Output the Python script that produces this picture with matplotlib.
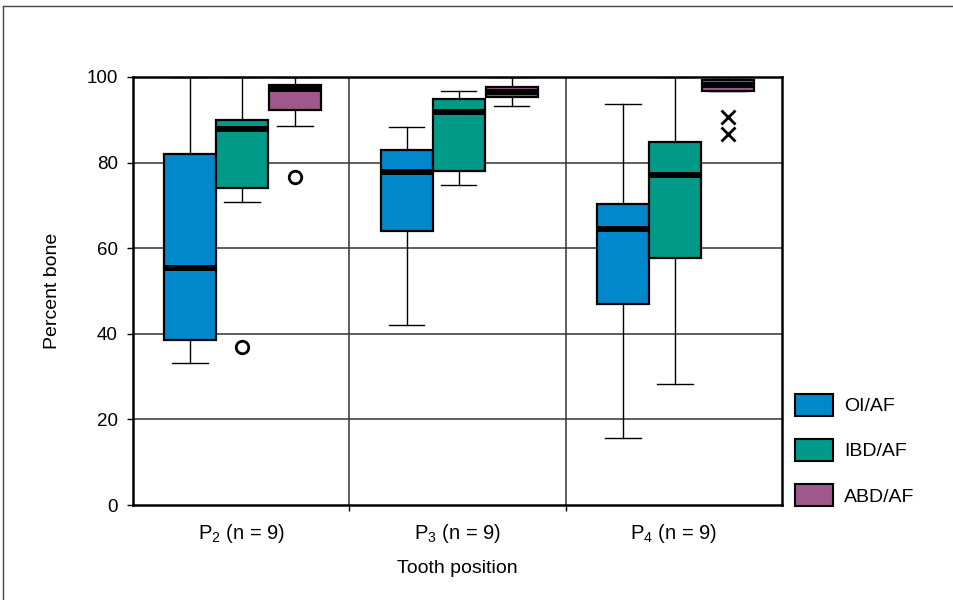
import matplotlib.pyplot as plt
from matplotlib.patches import Patch
from matplotlib.lines import Line2D

plt.rcParams['font.family'] = ['Liberation Sans', 'DejaVu Sans']
plt.rcParams['mathtext.fontset'] = 'custom'
plt.rcParams['mathtext.rm'] = 'Liberation Sans'

# data (percent bone)
groups = ['$\\mathrm{P}_2$ (n = 9)', '$\\mathrm{P}_3$ (n = 9)', '$\\mathrm{P}_4$ (n = 9)']
series = ['OI/AF', 'IBD/AF', 'ABD/AF']
colors = ['#0088cc', '#009a88', '#a0588c']

# [group] -> (whislo, q1, median, q3, whishi)
oi_stats = [(33.2, 38.6, 55.4, 82.0, 100.0),
            (42.1, 64.0, 77.8, 82.9, 88.2),
            (15.7, 47.0, 64.5, 70.3, 93.6)]
ibd_stats = [(70.8, 74.1, 87.9, 90.0, 100.0),
             (74.8, 78.0, 91.8, 94.9, 96.7),
             (28.3, 57.7, 77.0, 84.7, 100.0)]
abd_stats = [(88.6, 92.3, 97.2, 98.1, 100.0),
             (93.2, 95.4, 96.6, 97.6, 100.0),
             (96.8, 96.8, 98.1, 99.2, 100.0)]
oi_fliers = [[], [], []]
ibd_fliers = [[37.0], [], []]
abd_fliers = [[76.6], [], [90.7, 86.7]]
flier_markers = ['o', 'o', 'x']

all_stats = [oi_stats, ibd_stats, abd_stats]
all_fliers = [oi_fliers, ibd_fliers, abd_fliers]
offsets = [-0.235, 0.005, 0.25]
width = 0.24

fig = plt.figure(figsize=(9.54, 6.0), dpi=100)
ax = fig.add_axes([0.1394, 0.1583, 0.6803, 0.7134])

for s in range(3):
    for g in range(3):
        lo, q1, med, q3, hi = all_stats[s][g]
        st = dict(whislo=lo, q1=q1, med=med, q3=q3, whishi=hi, fliers=all_fliers[s][g])
        mk = flier_markers[g]
        ax.bxp([st], positions=[g + offsets[s]], widths=width, capwidths=[0.165],
               patch_artist=True, showfliers=True,
               boxprops=dict(facecolor=colors[s], edgecolor='black', linewidth=1.6),
               medianprops=dict(color='black', linewidth=4.3, solid_capstyle='butt'),
               whiskerprops=dict(color='black', linewidth=1.0),
               capprops=dict(color='black', linewidth=1.0),
               flierprops=dict(marker=mk, markerfacecolor='none', markeredgecolor='black',
                               markersize=9 if mk == 'o' else 10, markeredgewidth=2.0,
                               linestyle='none'))

ax.set_xlim(-0.5, 2.5)
ax.set_ylim(0, 100)
ax.set_yticks([0, 20, 40, 60, 80, 100])
ax.set_xticks([0, 1, 2])
ax.set_xticklabels(groups)
ax.set_xticks([0.5, 1.5], minor=True)
ax.tick_params(axis='x', which='major', length=0, pad=12, labelsize=14.5)
ax.tick_params(axis='x', which='minor', length=4, width=1.0, direction='out')
ax.tick_params(axis='y', length=4, width=1.0, direction='out', labelsize=13.5, pad=7)

for yv in [20, 40, 60, 80]:
    ax.axhline(yv, color='#333333', linewidth=1.1, zorder=0)
for xv in [0.5, 1.5]:
    ax.axvline(xv, color='#333333', linewidth=1.1, zorder=0)

for sp in ax.spines.values():
    sp.set_linewidth(1.8)

ax.set_ylabel('Percent bone', fontsize=14, labelpad=18)
ax.set_xlabel('Tooth position', fontsize=14, labelpad=11)

handles = [Patch(facecolor=c, edgecolor='black', linewidth=1.5) for c in colors]
fig.legend(handles, series, loc='center left', bbox_to_anchor=(0.833, 0.25),
           frameon=False, fontsize=14, handlelength=1.95, handleheight=1.35,
           labelspacing=1.2, handletextpad=0.6, borderaxespad=0, borderpad=0)

# page frame lines (top and left)
fig.add_artist(Line2D([0.003, 1.0], [0.99, 0.99], color='#444444', linewidth=1.0))
fig.add_artist(Line2D([0.003, 0.003], [0.0, 0.99], color='#444444', linewidth=1.0))

fig.savefig('out.png', dpi=100)
